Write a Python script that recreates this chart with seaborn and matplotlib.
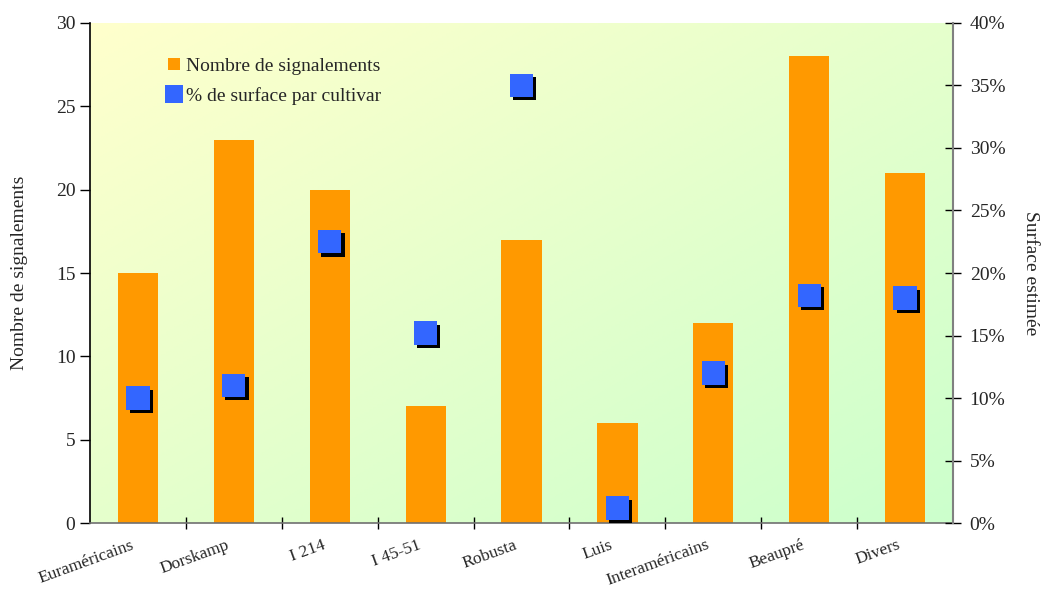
import numpy as np
import pandas as pd
import matplotlib
matplotlib.use("Agg")
import matplotlib.pyplot as plt
import matplotlib.patheffects as pe
from matplotlib.colors import LinearSegmentedColormap
from matplotlib.lines import Line2D
from matplotlib.ticker import FixedLocator, FuncFormatter
import seaborn as sns

# Cultivars and observations
cultivars = ["Euraméricains", "Dorskamp", "I 214", "I 45-51", "Robusta",
             "Luis", "Interaméricains", "Beaupré", "Divers"]
signalements = [15, 23, 20, 7, 17, 6, 12, 28, 21]
surface_pct = [10.0, 11.0, 22.5, 15.2, 35.0, 1.2, 12.0, 18.2, 18.0]

bar_color = "#FF9900"
marker_color = "#3366FF"

sns.set_theme(style="ticks")
plt.rcParams["font.family"] = ["Liberation Serif", "DejaVu Serif"]

fig = plt.figure(figsize=(10.48, 5.94), dpi=100)
ax = fig.add_axes([0.0859, 0.1195, 0.8235, 0.8418])

# Diagonal yellow-to-green background (yellow top-left, green bottom-right)
grad_cmap = LinearSegmentedColormap.from_list("bg", ["#FFFFCC", "#CCFFCC"])
gx, gy = np.meshgrid(np.linspace(0, 1, 200), np.linspace(0, 1, 200))
ax.imshow(0.5 * gx + 0.5 * gy, cmap=grad_cmap, aspect="auto",
          extent=(0, 1, 0, 1), origin="upper", transform=ax.transAxes,
          zorder=0, interpolation="bilinear")

df = pd.DataFrame({"cultivar": cultivars, "n": signalements, "pct": surface_pct})

sns.barplot(data=df, x="cultivar", y="n", color=bar_color, saturation=1,
            width=0.42, ax=ax, zorder=2, edgecolor="none", linewidth=0)
ax.set_ylim(0, 30)
ax.set_xlim(-0.5, len(cultivars) - 0.5)
ax.set_yticks(range(0, 31, 5))
ax.set_ylabel("Nombre de signalements", fontsize=14, labelpad=20)
ax.set_xlabel("")

ax2 = ax.twinx()
sns.scatterplot(data=df, x=np.arange(len(cultivars)), y="pct", marker="s",
                s=280, color=marker_color, edgecolor="none", linewidth=0,
                ax=ax2, zorder=3, legend=False)
ax2.collections[0].set_path_effects([
    pe.SimplePatchShadow(offset=(2.3, -2.3), shadow_rgbFace="black", alpha=1.0),
    pe.Normal(),
])
ax2.set_ylim(0, 40)
ax2.set_yticks(range(0, 41, 5))
ax2.yaxis.set_major_formatter(FuncFormatter(lambda v, _: f"{v:.0f}%"))
ax2.set_ylabel("Surface estimée", fontsize=14, rotation=270, labelpad=24)
ax2.set_xlim(-0.5, len(cultivars) - 0.5)

# Category boundaries as tick marks, names under each bar
ax.xaxis.set_major_locator(FixedLocator(np.arange(0.5, len(cultivars) - 0.5, 1.0)))
ax.xaxis.set_major_formatter(FuncFormatter(lambda v, _: ""))
ax.xaxis.set_minor_locator(FixedLocator(np.arange(len(cultivars)) - 0.08))
ax.set_xticklabels(cultivars, minor=True, fontsize=12.5, rotation=20,
                   ha="right", va="top", rotation_mode="anchor")
ax.tick_params(axis="x", which="minor", length=0, pad=10)
ax.tick_params(axis="x", which="major", direction="inout", length=9,
               width=1, color="black")
ax.tick_params(axis="y", direction="out", length=7, width=1, labelsize=14,
               color="black")
ax2.tick_params(axis="y", direction="inout", length=12, width=1,
                labelsize=14, color="black", pad=6)

for a in (ax, ax2):
    a.spines["top"].set_visible(False)
ax.spines["left"].set_color("black")
ax.spines["bottom"].set_color("#707070")
ax.spines["right"].set_visible(False)
ax2.spines["left"].set_visible(False)
ax2.spines["bottom"].set_visible(False)
ax2.spines["right"].set_color("#808080")
ax2.spines["right"].set_linewidth(1.5)
for sp in ("left", "bottom"):
    ax.spines[sp].set_linewidth(1.2)

handles = [
    Line2D([], [], linestyle="none", marker="s", markersize=9,
           markerfacecolor=bar_color, markeredgewidth=0,
           label="Nombre de signalements"),
    Line2D([], [], linestyle="none", marker="s", markersize=13,
           markerfacecolor=marker_color, markeredgewidth=0,
           label="% de surface par cultivar"),
]
ax2.legend(handles=handles, loc="upper left", bbox_to_anchor=(0.069, 0.963),
           frameon=False, fontsize=14, handlelength=0.9, handletextpad=0.15,
           labelspacing=0.65, borderpad=0.3)

fig.savefig("out.png", dpi=100)
